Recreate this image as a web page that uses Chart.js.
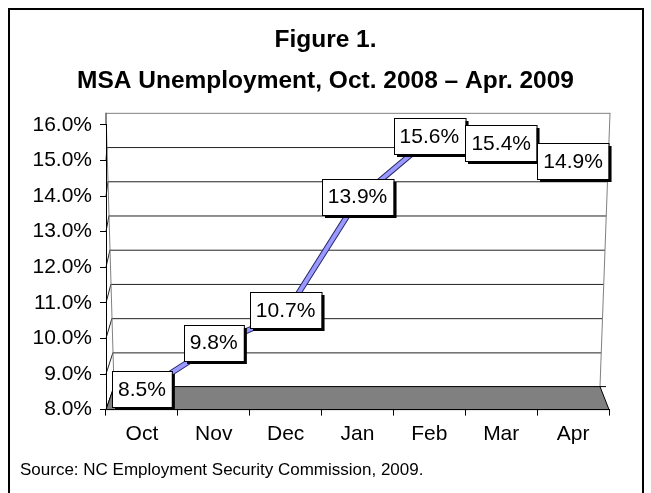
<!DOCTYPE html>
<html lang="en">
<head>
    <meta charset="UTF-8">
    <title>MSA Unemployment</title>
    <script src="https://cdn.jsdelivr.net/npm/chart.js"></script>
    <style>
        body {
            margin: 0;
            background: #fff;
        }
        #wrap {
            width: 651px;
            height: 493px;
        }
    </style>
</head>
<body>

<div id="wrap">
    <canvas id="chart" width="651" height="493"></canvas>
</div>

<script>
const months = ['Oct', 'Nov', 'Dec', 'Jan', 'Feb', 'Mar', 'Apr'];
const rates = [8.5, 9.8, 10.7, 13.9, 15.6, 15.4, 14.9];
const yMin = 8;
const yMax = 16;
const titleLines = ['Figure 1.', 'MSA Unemployment, Oct. 2008 \u2013 Apr. 2009'];
const sourceNote = 'Source: NC Employment Security Commission, 2009.';

const FONT = "'Liberation Sans', Arial, sans-serif";

// back wall / floor of the fake 3D box (offsets from the front axes)
const wall = {topDy: -12, bottomDy: -23, leftTopDx: 0, leftBotDx: 8, rightTopDx: 1, rightBotDx: -9};

function backY(area, fy) {
    const t = (fy - area.top) / (area.bottom - area.top);
    return fy + wall.topDy + (wall.bottomDy - wall.topDy) * t;
}
function backX(area, fy, side) {
    const t = (fy - area.top) / (area.bottom - area.top);
    if (side === 'left') return area.left + wall.leftTopDx + (wall.leftBotDx - wall.leftTopDx) * t;
    return area.right + wall.rightTopDx + (wall.rightBotDx - wall.rightTopDx) * t;
}

const boxPlugin = {
    id: 'box3d',
    beforeDraw(chart) {
        const ctx = chart.ctx;
        const area = chart.chartArea;
        const y = chart.scales.y;
        ctx.save();
        ctx.fillStyle = '#fff';
        ctx.fillRect(0, 0, chart.width, chart.height);

        // outer frame
        ctx.strokeStyle = '#000';
        ctx.lineWidth = 2;
        ctx.strokeRect(9, 9, 634, 500);

        // back wall gridlines + side connectors
        ctx.lineWidth = 1;
        for (let v = yMin; v <= yMax; v++) {
            const fy = y.getPixelForValue(v);
            const by = backY(area, fy);
            const lx = backX(area, fy, 'left');
            const rx = backX(area, fy, 'right');
            ctx.strokeStyle = v === yMax ? '#808080' : '#222';
            ctx.beginPath();
            ctx.moveTo(lx, by + 0.5);
            ctx.lineTo(rx, by + 0.5);
            ctx.stroke();
            ctx.strokeStyle = '#222';
            ctx.beginPath();
            ctx.moveTo(area.left, fy);
            ctx.lineTo(lx, by);
            ctx.stroke();
        }
        // wall edges
        const topF = y.getPixelForValue(yMax);
        const botF = y.getPixelForValue(yMin);
        ctx.strokeStyle = '#808080';
        ctx.beginPath();
        ctx.moveTo(backX(area, topF, 'left'), backY(area, topF));
        ctx.lineTo(backX(area, botF, 'left'), backY(area, botF));
        ctx.moveTo(backX(area, topF, 'right'), backY(area, topF));
        ctx.lineTo(backX(area, botF, 'right'), backY(area, botF));
        ctx.stroke();

        // floor
        const bl = backX(area, botF, 'left'), br = backX(area, botF, 'right'), bb = backY(area, botF);
        ctx.fillStyle = '#808080';
        ctx.strokeStyle = '#000';
        ctx.beginPath();
        ctx.moveTo(bl, bb);
        ctx.lineTo(br, bb);
        ctx.lineTo(area.right, area.bottom);
        ctx.lineTo(area.left, area.bottom);
        ctx.closePath();
        ctx.fill();
        ctx.stroke();
        ctx.beginPath();
        ctx.moveTo(br, bb);
        ctx.lineTo(br + 6, bb);
        ctx.stroke();
        ctx.restore();
    },
    afterDatasetsDraw(chart) {
        const ctx = chart.ctx;
        const meta = chart.getDatasetMeta(0);
        ctx.save();
        ctx.font = '21px ' + FONT;
        ctx.textAlign = 'center';
        ctx.textBaseline = 'middle';
        meta.data.forEach((pt, i) => {
            const txt = rates[i].toFixed(1) + '%';
            const w = ctx.measureText(txt).width + 12;
            const h = 36;
            const x = Math.round(pt.x - w / 2);
            const yy = Math.round(pt.y - 3 - h / 2);
            ctx.fillStyle = '#000';
            ctx.fillRect(x + 3, yy + 3, w, h);
            ctx.fillStyle = '#fff';
            ctx.fillRect(x, yy, w, h);
            ctx.strokeStyle = '#000';
            ctx.lineWidth = 1;
            ctx.strokeRect(x + 0.5, yy + 0.5, w, h);
            ctx.fillStyle = '#000';
            ctx.fillText(txt, pt.x, pt.y - 2);
        });
        ctx.restore();
    }
};

new Chart(document.getElementById('chart'), {
    type: 'line',
    data: {
        labels: months,
        datasets: [{
            data: rates,
            borderColor: '#9999FF',
            borderWidth: 4,
            pointRadius: 0,
            tension: 0
        }, {
            data: rates,
            borderColor: '#2a2a6a',
            borderWidth: 6,
            pointRadius: 0,
            tension: 0
        }]
    },
    options: {
        responsive: false,
        animation: false,
        layout: {padding: {left: 20, right: 20, top: 0, bottom: 0}},
        plugins: {
            legend: {display: false},
            tooltip: {enabled: false},
            title: {
                display: true,
                text: titleLines,
                color: '#000',
                font: {family: FONT, size: 24.5, weight: 'bold', lineHeight: 1.67},
                padding: {top: 20, bottom: 23}
            },
            subtitle: {
                display: true,
                text: sourceNote,
                position: 'bottom',
                align: 'start',
                color: '#000',
                font: {family: FONT, size: 17, lineHeight: 1.2},
                padding: {top: 10, bottom: 12}
            }
        },
        scales: {
            x: {
                offset: true,
                grid: {display: true, drawOnChartArea: false, drawTicks: true, tickLength: 6, color: '#000', offset: true},
                border: {display: true, color: '#000'},
                ticks: {color: '#000', font: {family: FONT, size: 21}, padding: 6, maxRotation: 0},
                afterFit: s => { s.height = 41; }
            },
            y: {
                min: yMin,
                max: yMax,
                grid: {display: true, drawOnChartArea: false, drawTicks: true, tickLength: 6, color: '#000'},
                border: {display: true, color: '#000'},
                ticks: {
                    stepSize: 1,
                    color: '#000',
                    padding: 8,
                    font: {family: FONT, size: 21},
                    callback: v => v.toFixed(1) + '%'
                },
                afterFit: s => { s.width = 86; }
            },
            yRight: {
                position: 'right',
                display: true,
                grid: {display: false},
                border: {display: false},
                ticks: {display: false},
                afterFit: s => { s.width = 22; }
            }
        }
    },
    plugins: [boxPlugin]
});
</script>

</body>
</html>
